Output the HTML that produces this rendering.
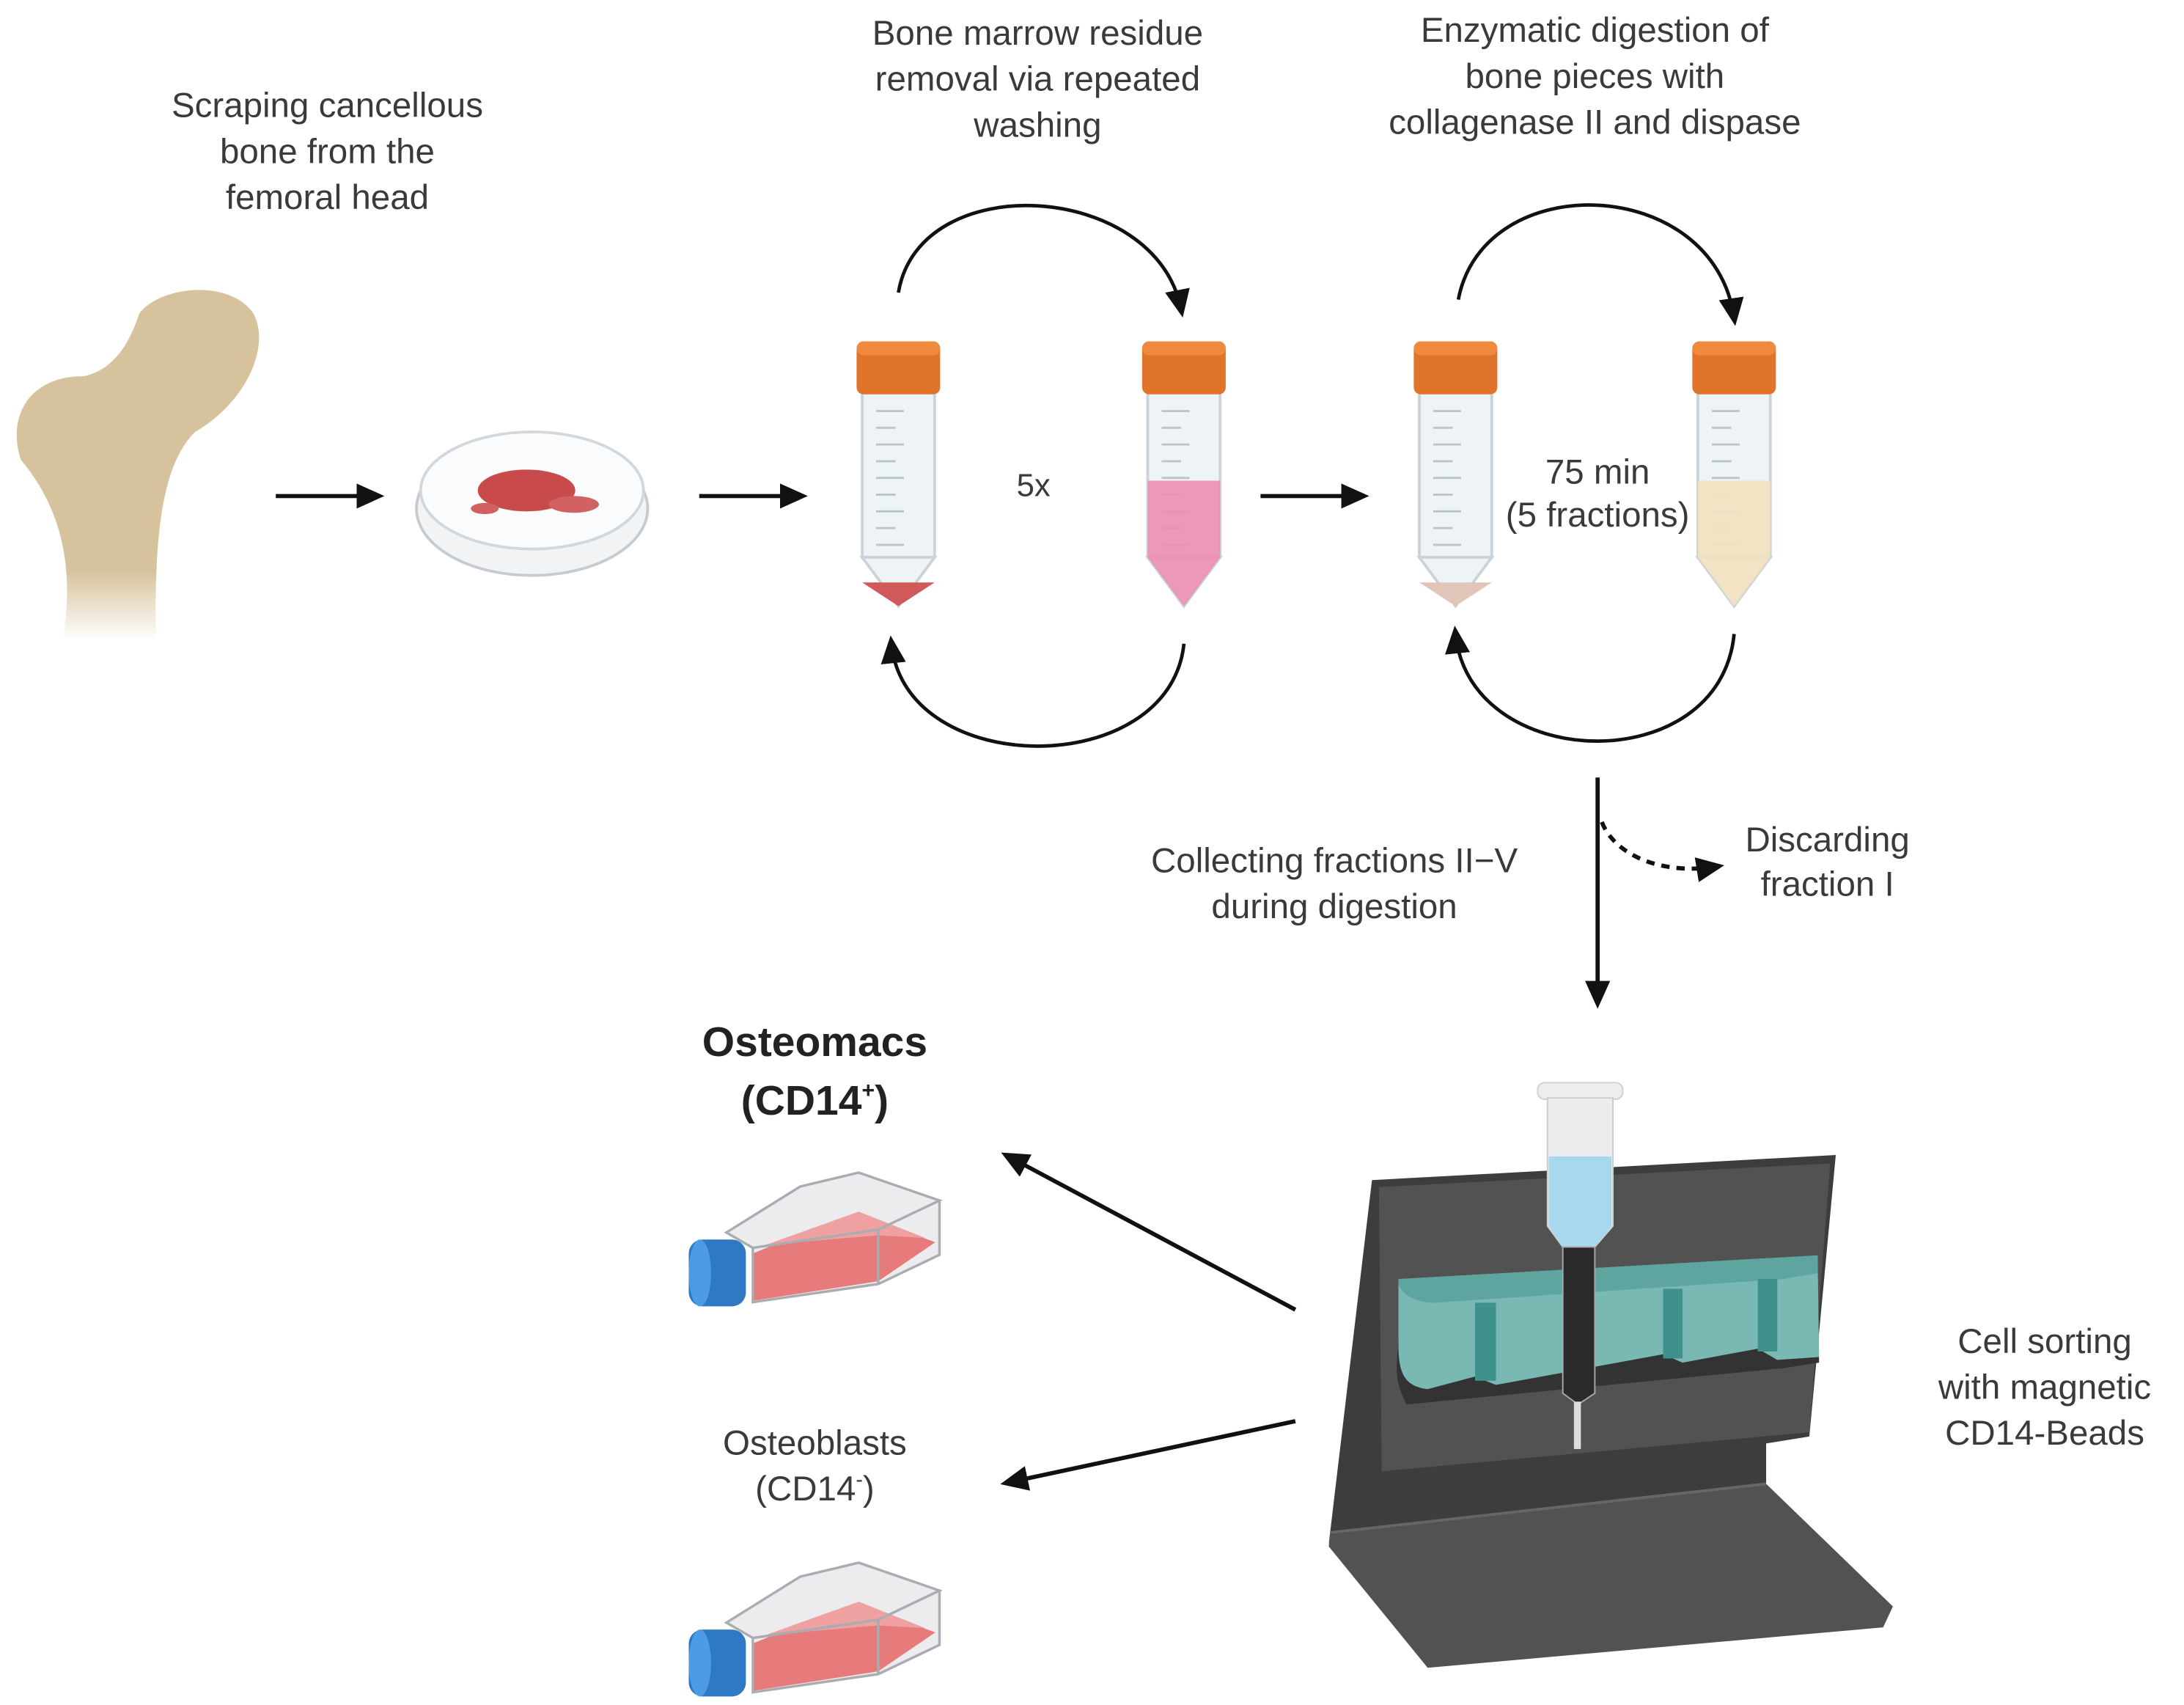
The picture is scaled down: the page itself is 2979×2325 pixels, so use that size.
<!DOCTYPE html>
<html><head><meta charset="utf-8"><style>
html,body{margin:0;padding:0;background:#fff;}
svg{display:block;}
text{font-family:"Liberation Sans",sans-serif;fill:#3a3a3a;font-size:25px;text-anchor:middle;}
</style></head><body>
<svg width="2979" height="2325" viewBox="0 0 1568 1223.7" xmlns="http://www.w3.org/2000/svg">
<defs>
<marker id="ahb" markerWidth="22" markerHeight="22" refX="14" refY="11" orient="auto" markerUnits="userSpaceOnUse" viewBox="0 0 22 22"><path d="M0,2 L20,11 L0,20 z" fill="#111"/></marker>
<linearGradient id="fade" x1="0" y1="0" x2="0" y2="1"><stop offset="0.8" stop-color="#d6c39d"/><stop offset="1" stop-color="#fff"/></linearGradient>
<g id="tube">
<rect x="4" y="30" width="52" height="125" fill="#eef3f6" stroke="#c9d3d9" stroke-width="2"/>
<path d="M4,155 L30,190 L56,155 z" fill="#eef3f6" stroke="#c9d3d9" stroke-width="2"/>
<g stroke="#b9c4cb" stroke-width="1.5"><line x1="14" y1="50" x2="34" y2="50"/><line x1="14" y1="62" x2="28" y2="62"/><line x1="14" y1="74" x2="34" y2="74"/><line x1="14" y1="86" x2="28" y2="86"/><line x1="14" y1="98" x2="34" y2="98"/><line x1="14" y1="110" x2="28" y2="110"/><line x1="14" y1="122" x2="34" y2="122"/><line x1="14" y1="134" x2="28" y2="134"/><line x1="14" y1="146" x2="34" y2="146"/></g>
<rect x="0" y="0" width="60" height="38" rx="5" fill="#e0742a"/>
<rect x="0" y="0" width="60" height="10" rx="5" fill="#ef8a3c"/>
</g>
<g id="flask">
<path d="M32,53 L85,20 L127,10 L185,30 L185,69 L141,90 L51,103 L51,64 z" fill="#ececee"/>
<path d="M51,68 L90,52 L127,40 L182,60 L141,88 L51,102 z" fill="#e77a7a"/>
<path d="M60,62 L127,38 L175,57 L141,55 z" fill="#efa0a0"/>
<g fill="none" stroke="#a9acb0" stroke-width="1.8">
<path d="M32,53 L85,20 L127,10 L185,30 L141,51 L51,64 z"/>
<path d="M51,64 L51,103 L141,90 L185,69 L185,30"/>
<line x1="141" y1="51" x2="141" y2="90"/>
</g>
<rect x="5" y="58" width="41" height="48" rx="10" fill="#2f78c4"/>
<ellipse cx="13" cy="82" rx="8" ry="24" fill="#4c9be4"/>
</g>
</defs>

<!-- texts -->
<text x="235" y="84">Scraping cancellous</text>
<text x="235" y="117">bone from the</text>
<text x="235" y="150">femoral head</text>
<text x="745" y="32">Bone marrow residue</text>
<text x="745" y="65">removal via repeated</text>
<text x="745" y="98">washing</text>
<text x="1145" y="30">Enzymatic digestion of</text>
<text x="1145" y="63">bone pieces with</text>
<text x="1145" y="96">collagenase II and dispase</text>
<text x="742" y="356" style="font-size:23px">5x</text>
<text x="1147" y="347">75 min</text>
<text x="1147" y="378">(5 fractions)</text>
<text x="1312" y="611">Discarding</text>
<text x="1312" y="643">fraction I</text>
<text x="958" y="626">Collecting fractions II−V</text>
<text x="958" y="659">during digestion</text>
<text x="585" y="758" style="font-size:30px;font-weight:bold;fill:#222">Osteomacs</text>
<text x="585" y="800" style="font-size:30px;font-weight:bold;fill:#222">(CD14<tspan dy="-12" style="font-size:16px">+</tspan><tspan dy="12">)</tspan></text>
<text x="585" y="1044">Osteoblasts</text>
<text x="585" y="1077">(CD14<tspan dy="-10" style="font-size:15px">-</tspan><tspan dy="10">)</tspan></text>
<text x="1468" y="971">Cell sorting</text>
<text x="1468" y="1004">with magnetic</text>
<text x="1468" y="1037">CD14-Beads</text>

<!-- femur -->
<path d="M45,460 C55,400 40,360 15,330 C5,300 20,270 60,270 C85,265 95,240 100,225 C115,205 165,200 182,225 C195,250 175,290 140,310 C120,330 110,370 112,460 z" fill="url(#fade)"/>

<!-- petri dish -->
<ellipse cx="382" cy="365" rx="83" ry="48" fill="#f1f3f5" stroke="#c5cbd0" stroke-width="2"/>
<ellipse cx="382" cy="352" rx="80" ry="42" fill="#fafbfc" stroke="#d2d7db" stroke-width="2"/>
<ellipse cx="378" cy="352" rx="35" ry="15" fill="#c84a4a"/>
<ellipse cx="412" cy="362" rx="18" ry="6" fill="#d26262"/>
<ellipse cx="348" cy="365" rx="10" ry="4" fill="#d26262"/>

<!-- arrows -->
<g stroke="#111" stroke-width="3" fill="none">
<line x1="198" y1="356" x2="270" y2="356" marker-end="url(#ahb)"/>
<line x1="502" y1="356" x2="574" y2="356" marker-end="url(#ahb)"/>
<line x1="905" y1="356" x2="977" y2="356" marker-end="url(#ahb)"/>
<line x1="1147" y1="558" x2="1147" y2="718" marker-end="url(#ahb)"/>
<line x1="930" y1="940" x2="724" y2="830" marker-end="url(#ahb)"/>
<line x1="930" y1="1020" x2="724" y2="1064" marker-end="url(#ahb)"/>
<path d="M1150,590 C1160,615 1195,628 1232,622" stroke-dasharray="6,5" marker-end="url(#ahb)"/>
<path d="M645,210 C660,120 830,130 848,222" stroke-width="2.5" marker-end="url(#ahb)"/>
<path d="M850,462 C840,560 650,560 640,462" stroke-width="2.5" marker-end="url(#ahb)"/>
<path d="M1047,215 C1065,120 1230,125 1245,228" stroke-width="2.5" marker-end="url(#ahb)"/>
<path d="M1245,455 C1235,560 1055,555 1045,455" stroke-width="2.5" marker-end="url(#ahb)"/>
</g>
<!-- tubes -->
<use href="#tube" x="615" y="245"/>
<path d="M619,418 L645,435 L671,418 z" fill="#d05a5a"/>
<use href="#tube" x="820" y="245"/>
<path d="M824,345 L876,345 L876,400 L850,435 L824,400 z" fill="#ec8db3" opacity="0.9"/>
<use href="#tube" x="1015" y="245"/>
<path d="M1019,418 L1045,435 L1071,418 z" fill="#e0c5b8"/>
<use href="#tube" x="1215" y="245"/>
<path d="M1219,345 L1271,345 L1271,400 L1245,435 L1219,400 z" fill="#f0e2c0" opacity="0.95"/>

<!-- flasks -->
<use href="#flask" x="489.5" y="831.6"/>
<use href="#flask" x="489.5" y="1111.6"/>

<!-- magnet stand -->
<path d="M985,847 L1318,829 L1299,1031 L1268,1036 L1268,1065 L956,1100 L954,1108 z" fill="#3d3d3d"/>
<path d="M990,852 L1314,835 L1299,1028 L992,1056 z" fill="#525252"/>
<path d="M955,1100 L1268,1065 L1359,1153 L1352,1168 L1025,1197 L954,1110 z" fill="#525252"/>
<path d="M955,1100 L1268,1065" stroke="#666" stroke-width="2"/>
<path d="M1004,918 L1305,901 L1306,978 L1280,982 L1010,1008 C1000,990 1003,980 1004,960 z" fill="#333"/>
<path d="M1004,918 L1305,901 L1306,974 L1276,976 L1262,968 L1208,978 L1194,972 L1074,994 L1059,988 L1025,997 C1008,995 1004,985 1004,965 z" fill="#7ab8b3"/>
<path d="M1004,918 L1305,901 L1305,914 L1280,918 L1030,935 C1015,935 1006,928 1004,922 z" fill="#5ea59f"/>
<rect x="1059" y="935" width="15" height="56" fill="#3f928b"/>
<rect x="1194" y="925" width="14" height="50" fill="#3f928b"/>
<rect x="1262" y="918" width="14" height="52" fill="#3f928b"/>
<!-- column -->
<rect x="1104" y="777" width="61" height="12" rx="5" fill="#eceeee" stroke="#d0d0d0"/>
<path d="M1111,788 L1158,788 L1158,880 L1145,895 L1122,895 L1111,880 z" fill="#eaeced" stroke="#c9cdd0"/>
<path d="M1112,830 L1157,830 L1157,880 L1145,895 L1122,895 L1112,880 z" fill="#a6d8ee"/>
<path d="M1122,895 L1145,895 L1145,1000 L1133,1008 L1122,1000 z" fill="#2a2a2a" stroke="#aaa"/>
<rect x="1130" y="1006" width="5" height="34" fill="#ddd"/>
</svg>
</body></html>
